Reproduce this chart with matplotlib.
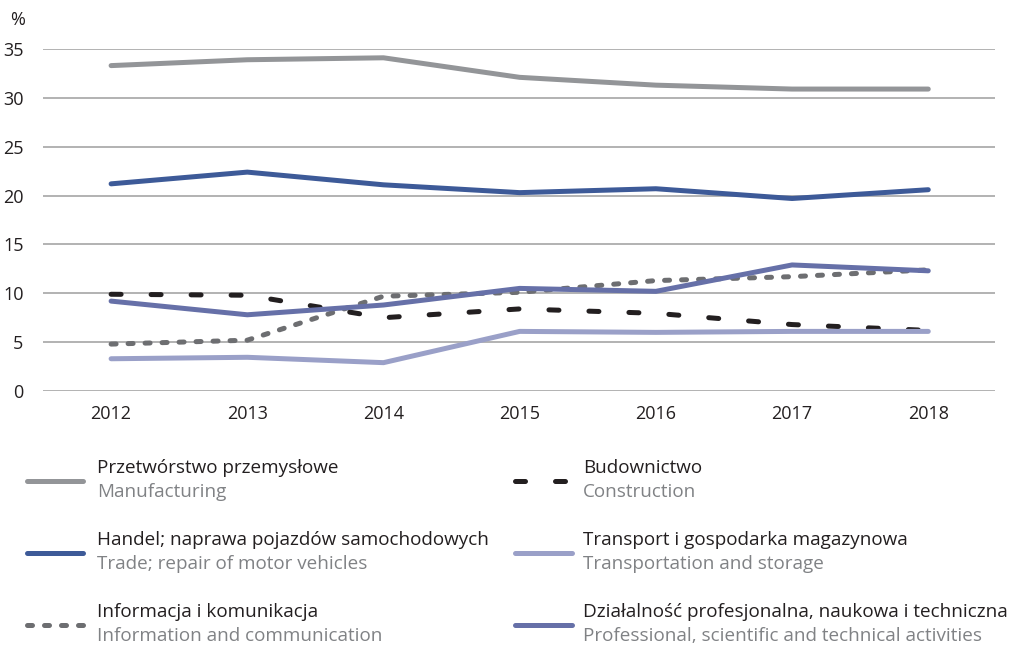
import matplotlib
matplotlib.use("Agg")
import matplotlib.pyplot as plt
from matplotlib.lines import Line2D

years = [2012, 2013, 2014, 2015, 2016, 2017, 2018]
manufacturing = [33.3, 33.9, 34.1, 32.1, 31.3, 30.9, 30.9]
trade = [21.2, 22.4, 21.1, 20.3, 20.7, 19.7, 20.6]
construction = [9.9, 9.8, 7.5, 8.4, 7.95, 6.8, 6.2]
transport = [3.3, 3.45, 2.9, 6.1, 6.0, 6.1, 6.1]
information = [4.8, 5.2, 9.7, 10.1, 11.3, 11.7, 12.4]
professional = [9.2, 7.8, 8.8, 10.5, 10.2, 12.9, 12.3]

labels_pl = ["Przetwórstwo przemysłowe", "Handel; naprawa pojazdów samochodowych",
             "Informacja i komunikacja", "Budownictwo",
             "Transport i gospodarka magazynowa",
             "Działalność profesjonalna, naukowa i techniczna"]
labels_en = ["Manufacturing", "Trade; repair of motor vehicles",
             "Information and communication", "Construction",
             "Transportation and storage",
             "Professional, scientific and technical activities"]
yticks = [0, 5, 10, 15, 20, 25, 30, 35]

plt.rcParams['font.family'] = ['Open Sans', 'DejaVu Sans']

W, H = 1014, 646
fig = plt.figure(figsize=(W / 100, H / 100), dpi=100)
ax = fig.add_axes([43 / W, 1 - 391 / H, (995 - 43) / W, (391 - 49) / H])

LW = 3.6
styles = [
    dict(color="#939598", lw=LW, ls="-"),
    dict(color="#3d5a98", lw=LW, ls="-"),
    dict(color="#6d6e71", lw=LW, ls=(0, (1.0, 2.4)), dash_capstyle="round"),
    dict(color="#231f20", lw=LW, ls=(0, (2.0, 6.0)), dash_capstyle="round"),
    dict(color="#9aa0c8", lw=LW, ls="-"),
    dict(color="#6670a8", lw=LW, ls="-"),
]
series = [manufacturing, trade, information, construction, transport, professional]
order = [4, 3, 2, 5, 1, 0]
for i in order:
    ax.plot(years, series[i], solid_capstyle="round", zorder=3 + i * 0.1, **styles[i])

ax.set_xlim(2011.5, 2018.49)
ax.set_ylim(0, 35)
ax.set_yticks(yticks)
ax.set_xticks(years)
ax.grid(axis="y", color="#9e9e9e", lw=1.1)
ax.set_axisbelow(True)
for s in ax.spines.values():
    s.set_visible(False)
ax.tick_params(length=0, labelsize=13, colors="#231f20")
ax.tick_params(axis="y", pad=14)
ax.tick_params(axis="x", pad=10)
fig.text(10 / W, 1 - 20 / H, "%", fontsize=13, color="#231f20", va="center", ha="left")

# legend
rows_y = [481, 553, 625]
cols = [(27, 83, 97), (515, 572, 583)]
for k in range(6):
    c = k // 3
    r = k % 3
    x0, x1, tx = cols[c]
    y = rows_y[r]
    st = dict(styles[k])
    ln = Line2D([x0 / W, x1 / W], [1 - y / H, 1 - y / H], transform=fig.transFigure,
                solid_capstyle="round", **st)
    fig.add_artist(ln)
    fig.text(tx / W, 1 - (y - 13) / H, labels_pl[k], fontsize=13.6, color="#231f20",
             va="center", ha="left")
    fig.text(tx / W, 1 - (y + 11) / H, labels_en[k], fontsize=13.6, color="#808285",
             va="center", ha="left")

fig.savefig("out.png", dpi=100)
